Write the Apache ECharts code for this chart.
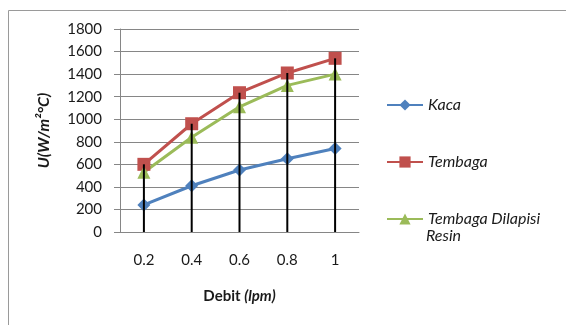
<!DOCTYPE html>
<html><head><meta charset="utf-8">
<script src="https://cdn.jsdelivr.net/npm/echarts@6/dist/echarts.min.js"></script>
<style>html,body{margin:0;padding:0;background:#fff}#c{width:566px;height:325px}</style>
</head><body><div id="c"></div>
<script>
const categories = ['0.2', '0.4', '0.6', '0.8', '1'];
const kaca = [240, 410, 550, 650, 740];
const tembaga = [600, 960, 1235, 1410, 1540];
const tembagaResin = [530, 840, 1110, 1300, 1400];
const yTicks = [0, 200, 400, 600, 800, 1000, 1200, 1400, 1600, 1800];
const seriesNames = ['Kaca', 'Tembaga', 'Tembaga Dilapisi Resin'];

const dropData = categories.map((c, i) => [i, Math.max(kaca[i], tembaga[i], tembagaResin[i])]);
const FONT = 'Lato';
const TXT = '#1a1a1a';

const chart = echarts.init(document.getElementById('c'), null, {renderer: 'canvas'});
chart.setOption({
  animation: false,
  backgroundColor: '#fff',
  textStyle: {fontFamily: FONT},
  graphic: [
    {type: 'rect', shape: {x: 8.5, y: 10.5, width: 620, height: 400}, style: {fill: 'none', stroke: '#9a9a9a', lineWidth: 1}, silent: true, z: -10},
    {type: 'text', x: 426, y: 236, style: {text: 'Resin', font: 'italic 16px ' + FONT, fill: TXT, verticalAlign: 'middle'}}
  ],
  grid: {left: 120, right: 207, top: 29, bottom: 93, containLabel: false},
  legend: {
    orient: 'vertical', left: 381, top: 92, itemGap: 41, itemWidth: 36, itemHeight: 14,
    data: seriesNames,
    formatter: n => n === 'Tembaga Dilapisi Resin' ? 'Tembaga Dilapisi' : n,
    textStyle: {fontFamily: FONT, fontStyle: 'italic', fontSize: 16, color: TXT, lineHeight: 14}
  },
  xAxis: {
    type: 'category', data: categories, boundaryGap: true,
    name: '{b|Debit }{bi|(lpm)}', nameLocation: 'middle', nameGap: 57,
    nameTextStyle: {rich: {
      b: {fontFamily: FONT, fontWeight: 'bold', fontSize: 15, color: TXT},
      bi: {fontFamily: FONT, fontWeight: 'bold', fontStyle: 'italic', fontSize: 15, color: TXT}
    }},
    axisLine: {lineStyle: {color: '#868686', width: 1}},
    axisTick: {show: false},
    axisLabel: {margin: 21, fontSize: 15, color: TXT, fontFamily: FONT},
    splitLine: {show: false}
  },
  yAxis: {
    type: 'value', min: yTicks[0], max: yTicks[yTicks.length - 1], interval: 200,
    name: 'U(W/m²°C)', nameLocation: 'middle', nameGap: 68, nameRotate: 90,
    nameTextStyle: {fontFamily: FONT, fontWeight: 'bold', fontStyle: 'italic', fontSize: 16, color: TXT},
    axisLine: {show: true, lineStyle: {color: '#868686', width: 1}},
    axisTick: {show: true, length: 6, lineStyle: {color: '#868686'}},
    axisLabel: {margin: 18, fontSize: 15, color: TXT, fontFamily: FONT, formatter: v => String(v)},
    splitLine: {lineStyle: {color: '#868686', width: 1}}
  },
  series: [
    {name: seriesNames[0], type: 'line', data: kaca, color: '#4F81BD', symbol: 'diamond', symbolSize: 13,
     lineStyle: {width: 3}, itemStyle: {color: '#4F81BD'}, z: 3},
    {name: seriesNames[1], type: 'line', data: tembaga, color: '#C0504D', symbol: 'rect', symbolSize: 13,
     lineStyle: {width: 3}, itemStyle: {color: '#C0504D'}, z: 3},
    {name: seriesNames[2], type: 'line', data: tembagaResin, color: '#9BBB59', symbol: 'triangle', symbolSize: 13,
     lineStyle: {width: 3}, itemStyle: {color: '#9BBB59'}, z: 3},
    {type: 'custom', z: 5, silent: true, data: dropData,
     renderItem: (params, api) => {
       const p0 = api.coord([api.value(0), 0]);
       const p1 = api.coord([api.value(0), api.value(1)]);
       return {type: 'line', shape: {x1: p0[0], y1: p0[1], x2: p1[0], y2: p1[1]}, style: {stroke: '#000', lineWidth: 2}};
     }}
  ]
});
</script></body></html>
